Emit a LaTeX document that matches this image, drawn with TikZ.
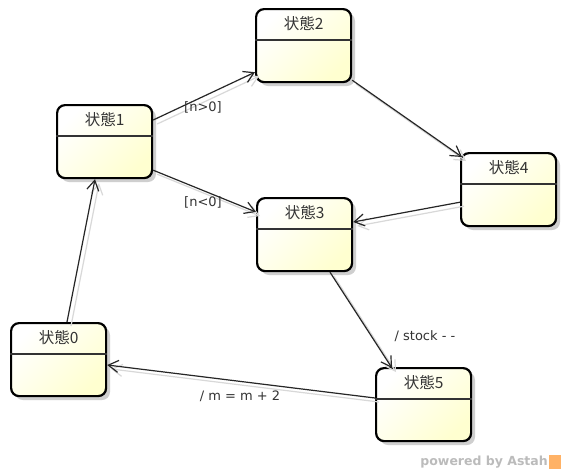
\documentclass[tikz,border=0pt]{standalone}
\usepackage{fontspec}
\setmainfont{DejaVu Sans}
\newfontfamily\cjk{Noto Sans CJK JP}
\usetikzlibrary{arrows.meta,calc}
\definecolor{boxfill}{HTML}{FFFFD0}
\definecolor{shadowgray}{HTML}{CFCFCF}
\definecolor{edgeshadow}{HTML}{D8D8D8}
\definecolor{txt}{HTML}{333333}
\definecolor{wm}{HTML}{BBBBBB}
\begin{document}
\begin{tikzpicture}[x=1pt,y=-1pt,
  statebox/.style={draw=black,line width=2.2pt,rounded corners=8pt,
    minimum width=95pt,minimum height=73pt,inner sep=0pt,anchor=north west,
    shading=axis,left color=white,right color=boxfill,shading angle=45},
  stateshadow/.style={fill=shadowgray,rounded corners=8pt},
  divider/.style={draw=black!80,line width=1.2pt},
  title/.style={font=\cjk\fontsize{15.5}{18}\selectfont,text=txt},
  edge/.style={draw=black!85,line width=1.2pt,-{Straight Barb[length=10pt,width=12pt,line width=1.2pt]}},
  edgesh/.style={draw=edgeshadow,line width=1.2pt,-{Straight Barb[length=10pt,width=12pt,line width=1.2pt]}},
  lbl/.style={font=\fontsize{13}{15}\selectfont,text=txt,inner sep=1pt}]
\useasboundingbox (0,0) rectangle (563,472);
\fill[white] (0,0) rectangle (563,472);

\newcommand{\mkstate}[4]{%
  \fill[stateshadow] (#2+5,#3+5) rectangle ++(95,73);
  \node[statebox] (#1) at (#2,#3) {};
  \draw[divider] ($(#1.north west)+(0,32)$) -- ($(#1.north east)+(0,32)$);
  \node[title] (#1t) at ($(#1.north)+(0,16)$) {#4};
}
\mkstate{s1}{56}{104}{状態1}
\mkstate{s2}{255}{8}{状態2}
\mkstate{s3}{256}{197}{状態3}
\mkstate{s4}{460}{152}{状態4}
\mkstate{s0}{10}{322}{状態0}
\mkstate{s5}{375}{367}{状態5}

% edge coordinates
\coordinate (a1) at ($(s1.north east)+(0,16)$);
\coordinate (a2) at ($(s2.south west)+(0,-11)$);
\coordinate (b1) at ($(s1.south east)+(0,-9)$);
\coordinate (b3) at ($(s3.north west)+(0,15)$);
\coordinate (c2) at ($(s2.south east)+(0,-3)$);
\coordinate (c4) at ($(s4.north west)+(2,5)$);
\coordinate (d4) at ($(s4.south west)+(0,-25)$);
\coordinate (d3) at ($(s3.north east)+(0,25)$);
\coordinate (e3) at ($(s3.south west)+(74,0)$);
\coordinate (e5) at ($(s5.north west)+(17,1)$);
\coordinate (f5) at ($(s5.north west)+(0,31)$);
\coordinate (f0) at ($(s0.north east)+(0,43)$);
\coordinate (g0) at ($(s0.north west)+(57,0)$);
\coordinate (g1) at ($(s1.south west)+(39,0)$);

\begin{scope}[transform canvas={shift={(4pt,-4pt)}}]
\draw[edgesh] (a1) -- (a2);
\draw[edgesh] (b1) -- (b3);
\draw[edgesh] (c2) -- (c4);
\draw[edgesh] (d4) -- (d3);
\draw[edgesh] (e3) -- (e5);
\draw[edgesh] (f5) -- (f0);
\draw[edgesh] (g0) -- (g1);
\end{scope}

\draw[edge] (a1) -- (a2);
\draw[edge] (b1) -- (b3);
\draw[edge] (c2) -- (c4);
\draw[edge] (d4) -- (d3);
\draw[edge] (e3) -- (e5);
\draw[edge] (f5) -- (f0);
\draw[edge] (g0) -- (g1);

\node[lbl] (l1) at (203,107) {[n>0]};
\node[lbl] (l2) at (203,202) {[n<0]};
\node[lbl] (l3) at (425,336) {/ stock - -};
\node[lbl] (l4) at (240,396) {/ m = m + 2};

\node[font=\bfseries\fontsize{12.5}{14}\selectfont,text=wm,anchor=east,inner sep=0pt] (wmk) at (548,462) {powered by Astah};
\fill[orange!60] (549,455) rectangle (561,469);
\end{tikzpicture}
\end{document}
